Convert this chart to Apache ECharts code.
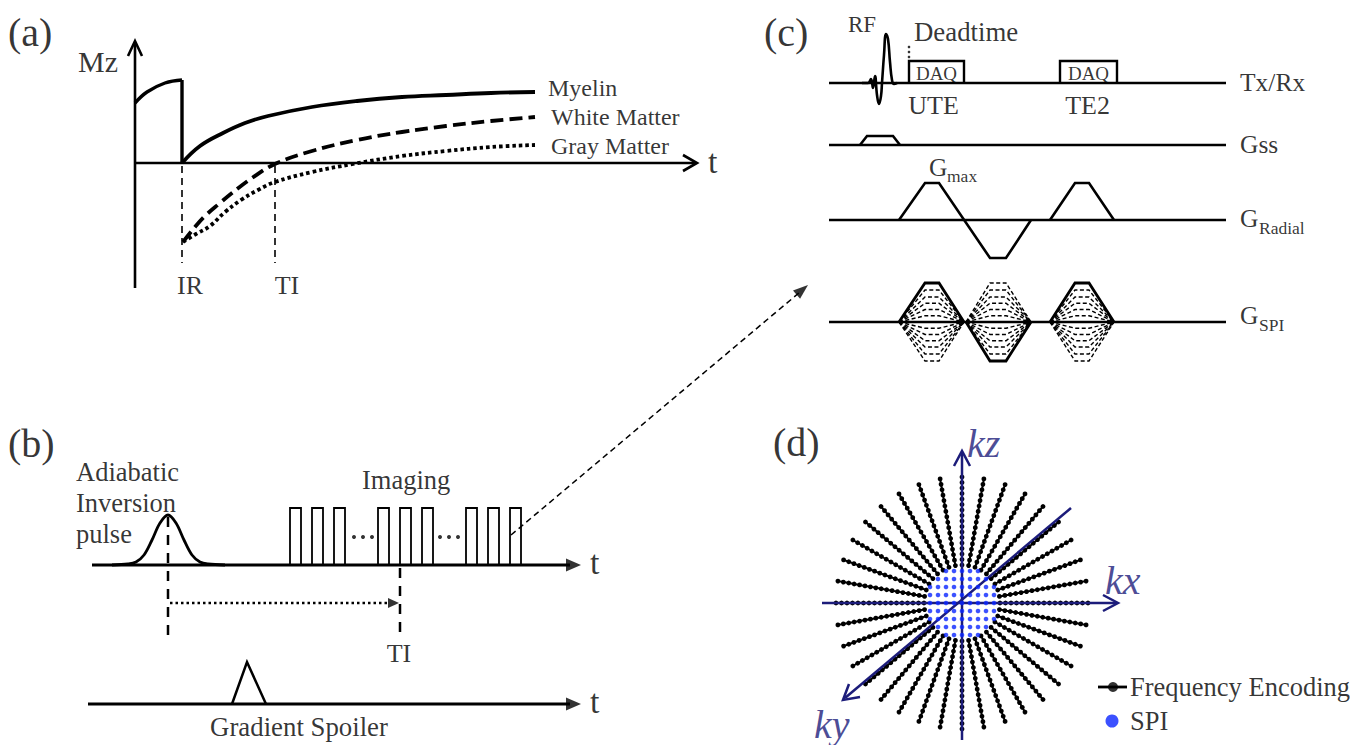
<!DOCTYPE html>
<html>
<head>
<meta charset="utf-8">
<title>IR-UTE sequence diagram</title>
<script src="https://cdn.jsdelivr.net/npm/echarts@6.0.0/dist/echarts.min.js"></script>
<style>
html,body{margin:0;padding:0;background:#ffffff;}
#chart{width:1368px;height:745px;}
</style>
</head>
<body>
<div id="chart"></div>
<script>
// ================= DATA (diagram units; each panel has its own origin) =================
// Panel (a): longitudinal magnetisation Mz versus time (origin = axis crossing)
const aPreInversion  = [[0,60],[12,71],[30,80],[47,83]];
const aInversionDrop = [[47,83],[47,0]];
const aMyelin      = [[47,0],[65,17],[88,30],[110,40],[133,47],[177,56],[222,62],[267,66],[311,68],[356,70],[400,71]];
const aWhiteMatter = [[48,-79],[60,-64],[70,-53],[85,-40],[97,-30],[117,-15],[140,-1],[177,12],[222,23],[267,31],[311,37],[356,42],[400,46]];
const aGrayMatter  = [[48,-79],[61,-71],[75,-63],[90,-49],[106,-37],[123,-27],[140,-19],[177,-9],[218,-1],[267,7],[311,12],[356,16],[400,18]];
const aCurveNames  = ['Myelin', 'White Matter', 'Gray Matter'];
const aMarkerTimes = [47, 140];          // IR, TI
const aMarkerNames = ['IR', 'TI'];

// Panel (b): inversion pulse, imaging train and spoiler (origin = inversion pulse centre)
const bInversionPulse = [[-56,0],[-40,1],[-32,3],[-24,10],[-16,25],[-8,42],[0,50],[8,42],[16,25],[24,10],[32,3],[40,1],[57,0]];
const bImagingPulses  = [[122,133],[144,155],[166,177],[210,221],[232,243],[254,265],[298,309],[320,331],[342,353]];
const bImagingHeight  = 57;
const bEllipsisDots   = [[186,28],[195,28],[204,28],[272,28],[281,28],[290,28]];
const bTI             = 232;
const bSpoilerLevel   = -139;
const bSpoiler        = [[64,0],[79,42],[98,0]];
const bInversionText  = ['Adiabatic', 'Inversion', 'pulse'];

// Panel (c): UTE pulse sequence (origin = RF peak on the Tx/Rx line)
const cChannelNames = ['Tx/Rx', 'Gss', 'G', 'G'];
const cChannelSubs  = ['', '', 'Radial', 'SPI'];
const cBaselines    = [0, -62, -137, -239];
const cRF  = [[-25,0],[-19,0],[-16,4],[-14,-5],[-12,7],[-10,-12],[-8,-21],[-6,-13],[-5,0],[-3,28],[-1,49],[1,44],[3,21],[5,3],[7,-1],[10,0]];
const cDAQ = [[22,77],[173,230]];
const cDAQHeight = 22;
const cDAQNames = ['UTE', 'TE2'];
const cDeadtimeDots = [[22,36],[22,31],[22,26]];
const cGss = [[-27,0],[-20,9],[6,9],[13,0]];
const cGRadial = [[[12,0],[38,37],[52,37],[103,-38],[119,-38],[144,0]], [[163,0],[188,37],[202,37],[227,0]]];
const cSpiLobes = [[12,38,52,77,1],[79,103,119,144,-1],[163,188,202,227,1]];   // start, ramp-up end, ramp-down start, end, sign of solid lobe
const cSpiAmplitude = 39;
const cSpiLevels = [0.16, 0.32, 0.48, 0.64, 0.82, 1.0];

// Panel (d): k-space (spokes in polar units, SPI grid in cartesian units)
const dSpokeAngles = [0,10,20,30,40,50,60,70,80,90,100,110,120,130,140,150,160,170,180,190,200,210,220,230,240,250,260,270,280,290,300,310,320,330,340,350];
const dSpokeRadii  = [38,43.5,49,54.5,60,65.5,71,76.5,82,87.5,93,98.5,104,109.5,115,120.5,126];
const dSpiGrid     = [-32,-24,-16,-8,0,8,16,24,32];
const dSpiRadius   = 36;
const dAxisNames   = ['kz', 'kx', 'ky'];
const dLegendNames = ['Frequency Encoding', 'SPI'];
const panelTags    = ['(a)', '(b)', '(c)', '(d)'];

// ================= STYLE / LAYOUT =================
const FONT = 'Liberation Serif';
const BLACK = '#000000';
const NAVY = '#1c1c7a';
const BLUE = '#0a26ff';
const GA = 0, GB = 1, GC = 2, GD = 3;

const series = [];
function poly(g, pts, w, type, color, extra) {
  series.push(Object.assign({
    type: 'line', xAxisIndex: g, yAxisIndex: g, data: pts, symbol: 'none', showSymbol: false,
    clip: false, silent: true, z: 2,
    lineStyle: { color: color || BLACK, width: w, type: type || 'solid', cap: 'butt', join: 'miter' }
  }, extra || {}));
}
function dots(g, pts, size, color, symbol, extra) {
  series.push(Object.assign({
    type: 'scatter', xAxisIndex: g, yAxisIndex: g, data: pts, symbol: symbol || 'circle',
    symbolSize: size, clip: false, silent: true, z: 3, itemStyle: { color: color || BLACK }
  }, extra || {}));
}
function arrowHead(g, tip, angleDeg, len, base, color) {
  const r = angleDeg * Math.PI / 180;
  const c = [tip[0] - Math.cos(r) * len / 2, tip[1] - Math.sin(r) * len / 2];
  dots(g, [c], [base, len], color || BLACK, 'triangle', { symbolRotate: angleDeg - 90, z: 4 });
}
function text(g, x, y, str, size, opt) {
  opt = opt || {};
  series.push({
    type: 'scatter', xAxisIndex: g, yAxisIndex: g, symbolSize: 1, clip: false, silent: true, z: 10,
    itemStyle: { color: 'transparent' },
    data: [{ value: [x, y], name: str }],
    label: {
      show: true, position: 'inside', formatter: '{b}', align: opt.align || 'left', verticalAlign: 'middle',
      fontFamily: FONT, fontSize: size, color: opt.color || BLACK, fontStyle: opt.italic ? 'italic' : 'normal'
    }
  });
}
const shift = (pts, dy) => pts.map(p => [p[0], p[1] + dy]);

// ---------- Panel (a) ----------
poly(GA, [[0,-125],[0,121]], 2.6);
poly(GA, [[-7,107],[0,122],[7,107]], 2.6);
poly(GA, [[0,0],[561,0]], 2.6);
poly(GA, [[548,8],[562,0],[548,-8]], 2.6);
poly(GA, aPreInversion, 3.4, 'solid', BLACK, { smooth: 0.4 });
poly(GA, aInversionDrop, 3.4);
poly(GA, aMyelin, 3.8, 'solid', BLACK, { smooth: 0.4 });
poly(GA, aWhiteMatter, 3.8, [13, 6], BLACK, { smooth: 0.4 });
poly(GA, aGrayMatter, 3.8, [3.5, 3], BLACK, { smooth: 0.4 });
aMarkerTimes.forEach(t => poly(GA, [[t,-3],[t,-100]], 1.6, [7, 5]));
text(GA, -127, 131, panelTags[0], 40);
text(GA, -57, 102, 'Mz', 30);
text(GA, 413, 75, aCurveNames[0], 24);
text(GA, 416, 46, aCurveNames[1], 24);
text(GA, 416, 17, aCurveNames[2], 24);
text(GA, 573, 2, 't', 34);
text(GA, aMarkerTimes[0] + 8, -122, aMarkerNames[0], 26, { align: 'center' });
text(GA, aMarkerTimes[1] + 12, -122, aMarkerNames[1], 26, { align: 'center' });

// ---------- Panel (b) ----------
poly(GB, [[-76,0],[402,0]], 3);
arrowHead(GB, [413,0], 0, 15, 13);
poly(GB, [[-80,bSpoilerLevel],[402,bSpoilerLevel]], 3);
arrowHead(GB, [413,bSpoilerLevel], 0, 15, 13);
poly(GB, bInversionPulse, 2.8, 'solid', BLACK, { smooth: 0.35 });
bImagingPulses.forEach(([x0, x1]) => poly(GB, [[x0,0],[x0,bImagingHeight],[x1,bImagingHeight],[x1,0]], 1.8));
dots(GB, bEllipsisDots, 4);
poly(GB, [[0,48],[0,-72]], 2.5, [10, 8]);
poly(GB, [[bTI,-3],[bTI,-72]], 2.5, [10, 8]);
poly(GB, [[2,-38],[222,-38]], 2.5, [2.5, 3]);
arrowHead(GB, [231,-38], 0, 11, 10);
poly(GB, shift(bSpoiler, bSpoilerLevel), 2.5);
poly(GB, [[343,30],[632,273]], 1.5, [6, 4]);
arrowHead(GB, [640,280], 40.1, 15, 11);
text(GB, -160, 122, panelTags[1], 40);
bInversionText.forEach((s, i) => text(GB, -92, 93 - i * 31, s, 26.5));
text(GB, 194, 85, 'Imaging', 26.5);
text(GB, 422, 3, 't', 34);
text(GB, 422, bSpoilerLevel + 3, 't', 34);
text(GB, bTI - 1, -88, 'TI', 26, { align: 'center' });
text(GB, 131, -162, 'Gradient Spoiler', 26.8, { align: 'center' });

// ---------- Panel (c) ----------
cBaselines.forEach(b => poly(GC, [[-58,b],[339,b]], 2.6));
poly(GC, cRF, 2.6, 'solid', BLACK, { smooth: 0.45 });
cDAQ.forEach(([x0, x1]) => poly(GC, [[x0,0],[x0,cDAQHeight],[x1,cDAQHeight],[x1,0]], 2.4));
dots(GC, cDeadtimeDots, 2.6);
poly(GC, shift(cGss, cBaselines[1]), 2.6);
cGRadial.forEach(w => poly(GC, shift(w, cBaselines[2]), 2.6));
cSpiLobes.forEach(([x0, t1, t2, x1, sgn]) => {
  [1, -1].forEach(side => {
    cSpiLevels.forEach(f => {
      if (side === sgn && f === 1.0) return;
      const a = side * f * cSpiAmplitude;
      poly(GC, shift([[x0,0],[t1,a],[t2,a],[x1,0]], cBaselines[3]), 1.4, [4, 2.5]);
    });
  });
  const A = sgn * cSpiAmplitude;
  poly(GC, shift([[x0,0],[t1,A],[t2,A],[x1,0]], cBaselines[3]), 2.8, 'solid', BLACK, { z: 3 });
});
text(GC, -123, 51, panelTags[2], 40);
text(GC, -39, 59, 'RF', 23);
text(GC, 27, 51, 'Deadtime', 26.8);
cDAQ.forEach(([x0, x1], i) => {
  text(GC, (x0 + x1) / 2, 10, 'DAQ', 19, { align: 'center' });
  text(GC, (x0 + x1) / 2 - (i === 0 ? 3 : 1), -22, cDAQNames[i], 26, { align: 'center' });
});
cChannelNames.forEach((s, i) => {
  const dy = i === 3 ? 7 : (i === 2 ? 2 : 1);
  text(GC, 353, cBaselines[i] + dy, s, 25.5);
  if (cChannelSubs[i]) text(GC, 372, cBaselines[i] + dy - 10, cChannelSubs[i], 17.5);
});
text(GC, 42, -84, 'G', 25.5);
text(GC, 60, -93, 'max', 17.5);

// ---------- Panel (d) ----------
dSpokeAngles.forEach(a => series.push({
  type: 'line', name: dLegendNames[0], coordinateSystem: 'polar', silent: true, z: 2,
  data: dSpokeRadii.map(r => [r, a]), symbol: 'circle', symbolSize: 4.8, showSymbol: true,
  itemStyle: { color: BLACK }, lineStyle: { color: BLACK, width: 2 }
}));
const spiPts = [];
dSpiGrid.forEach(x => dSpiGrid.forEach(y => { if (Math.hypot(x, y) <= dSpiRadius) spiPts.push([x, y]); }));
series.push({
  type: 'scatter', name: dLegendNames[1], xAxisIndex: GD, yAxisIndex: GD, data: spiPts,
  symbolSize: 4.6, itemStyle: { color: BLUE }, silent: true, z: 5, clip: false
});
poly(GD, [[0,-137],[0,150]], 2.5, 'solid', NAVY, { z: 4 });
poly(GD, [[-8,137],[0,152],[8,137]], 2.5, 'solid', NAVY, { z: 4 });
poly(GD, [[-140,0],[154,0]], 2.5, 'solid', NAVY, { z: 4 });
poly(GD, [[141,8],[156,0],[141,-8]], 2.5, 'solid', NAVY, { z: 4 });
poly(GD, [[109,95],[-117,-95]], 2.5, 'solid', NAVY, { z: 4 });
poly(GD, [[-113,-81],[-119,-97],[-102,-94]], 2.5, 'solid', NAVY, { z: 4 });
text(GD, -189, 161, panelTags[3], 40);
text(GD, 5, 160, dAxisNames[0], 40, { italic: true, color: NAVY });
text(GD, 143, 23, dAxisNames[1], 40, { italic: true, color: NAVY });
text(GD, -148, -121, dAxisNames[2], 40, { italic: true, color: NAVY });
// legend (drawn with the same marks as the plot)
poly(GD, [[136,-84],[165,-84]], 2.8);
dots(GD, [[151,-84]], 10);
dots(GD, [[150,-118]], 13, BLUE);
text(GD, 168, -84, dLegendNames[0], 26.5);
text(GD, 168, -118, dLegendNames[1], 26.5);

// ================= CHART =================
const grids = [
  { left: 0,   top: 0,   width: 740, height: 310 },
  { left: 0,   top: 270, width: 830, height: 475 },
  { left: 740, top: 0,   width: 628, height: 400 },
  { left: 740, top: 400, width: 628, height: 345 }
];
const xRanges = [[-135,605],[-168,662],[-147,481],[-222,406]];
const yRanges = [[-147,163],[-180,295],[-317,83],[-142,203]];

const chart = echarts.init(document.getElementById('chart'), null, { renderer: 'svg' });
chart.setOption({
  animation: false,
  backgroundColor: '#ffffff',
  grid: grids.map(g => Object.assign({ containLabel: false }, g)),
  xAxis: xRanges.map((r, i) => ({ type: 'value', gridIndex: i, min: r[0], max: r[1], show: false })),
  yAxis: yRanges.map((r, i) => ({ type: 'value', gridIndex: i, min: r[0], max: r[1], show: false })),
  polar: { center: [962, 603], radius: 127 },
  angleAxis: { type: 'value', min: 0, max: 360, startAngle: 0, clockwise: false, show: false },
  radiusAxis: { type: 'value', min: 0, max: 127, show: false },
  series: series
});
</script>
</body>
</html>
